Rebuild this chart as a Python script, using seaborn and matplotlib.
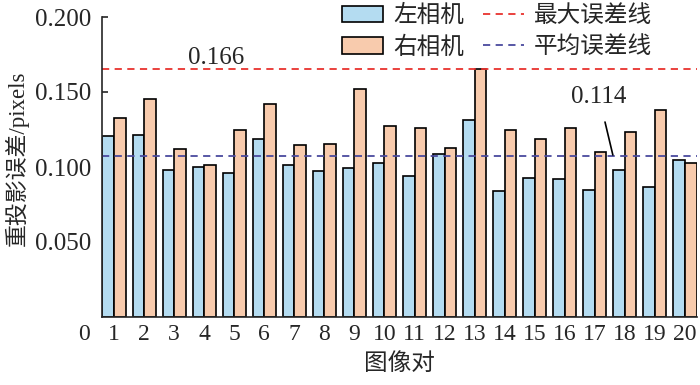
import matplotlib
matplotlib.use("Agg")
import matplotlib.pyplot as plt
import seaborn as sns
import pandas as pd
from matplotlib.patches import Patch
from matplotlib.lines import Line2D

pairs = [str(i) for i in range(1, 21)]
left_cam = [0.121, 0.1215, 0.098, 0.100, 0.096, 0.1184, 0.1015, 0.0971, 0.0996, 0.1027,
            0.0942, 0.1087, 0.1313, 0.084, 0.0929, 0.0922, 0.0847, 0.0982, 0.0867, 0.1045]
right_cam = [0.1329, 0.1451, 0.112, 0.1015, 0.1249, 0.1418, 0.1149, 0.1156, 0.152, 0.1271,
             0.1258, 0.1127, 0.1653, 0.1249, 0.1187, 0.1258, 0.110, 0.1233, 0.138, 0.1029]
series_names = ["左相机", "右相机"]
max_line = 0.1655
mean_line = 0.1075
max_label = "0.166"
mean_label = "0.114"
yticks = [0.05, 0.10, 0.15, 0.20]

sns.set_style("ticks")
plt.rcParams["font.family"] = ["Liberation Serif", "Noto Sans CJK SC"]

df = pd.DataFrame({
    "pair": pairs * 2,
    "err": left_cam + right_cam,
    "cam": [series_names[0]] * 20 + [series_names[1]] * 20,
})

colors = ["#b4dcf1", "#f8cbad"]
fig = plt.figure(figsize=(7.0, 3.85), dpi=100)
ax = fig.add_axes([102 / 700, 1 - 317 / 385, 595 / 700, 300 / 385])
sns.barplot(data=df, x="pair", y="err", hue="cam", order=pairs, hue_order=series_names,
            palette=colors, edgecolor="black", linewidth=1.2, width=0.77, gap=0,
            saturation=1, ax=ax, legend=False)

ax.axhline(max_line, color="#e8332e", lw=1.3, ls=(0, (4, 3)))
ax.axhline(mean_line, color="#4a4a9e", lw=1.3, ls=(0, (4, 3)))

ax.set_xlim(-0.4, 19.4)
ax.set_ylim(0, 0.2)
ax.set_yticks(yticks)
ax.set_yticklabels([f"{v:.3f}" for v in yticks])
ax.set_xticks(range(20))
ax.set_xticklabels(pairs)
ax.tick_params(axis="y", direction="in", length=4, width=1.2, labelsize=18, pad=8)
ax.tick_params(axis="x", length=0, labelsize=17, pad=5)
ax.text(-1, -0.005, "0", ha="center", va="top", fontsize=17, clip_on=False,
        transform=ax.transData)

sns.despine(ax=ax, top=True, right=True)
ax.spines["left"].set_linewidth(1.2)
ax.spines["bottom"].set_linewidth(1.2)

ax.set_xlabel("图像对", fontsize=17, labelpad=6)
ax.set_ylabel("重投影误差/pixels", fontsize=16.5)
ax.yaxis.set_label_coords(-(102 - 29) / 595, (317 - 158) / 300)

ax.text(3.39, 0.1727, max_label, ha="center", va="center", fontsize=18)
ax.annotate(mean_label, xy=(16.6, 0.108), xytext=(16.14, 0.1467),
            ha="center", va="center", fontsize=18,
            arrowprops=dict(arrowstyle="-", color="black", lw=1.2, shrinkA=8, shrinkB=0))

handles = [Patch(facecolor=colors[0], edgecolor="black", lw=1.2),
           Patch(facecolor=colors[1], edgecolor="black", lw=1.2),
           Line2D([], [], color="#e8332e", lw=1.3, ls=(0, (4, 3))),
           Line2D([], [], color="#4a4a9e", lw=1.3, ls=(0, (4, 3)))]
labels = [series_names[0], series_names[1], "最大误差线", "平均误差线"]
fig.legend(handles, labels, ncol=2, loc="upper left", bbox_to_anchor=(342 / 700, 1 - 5 / 385),
           frameon=False, fontsize=17, handlelength=1.75, handleheight=0.7,
           handletextpad=0.42, columnspacing=0.8, labelspacing=0.38, borderpad=0,
           borderaxespad=0)

fig.savefig("out.png", dpi=100)
